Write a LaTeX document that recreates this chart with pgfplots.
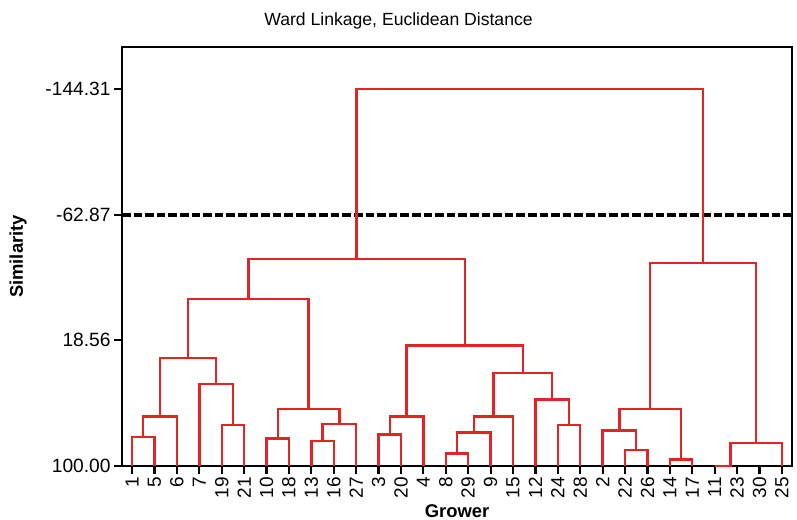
\documentclass[border=0pt]{standalone}
\usepackage{pgfplots}
\pgfplotsset{compat=1.18}
\usepackage{fontspec}
\setmainfont{Liberation Sans}
\definecolor{dendro}{RGB}{226,36,36}
\tikzset{lnk/.style={dendro, line width=1.2pt, mark=none, solid, line join=miter}}
\begin{document}
\begin{tikzpicture}
\begin{axis}[
  scale only axis,
  width=335pt, height=209.5pt,
  xmin=0.55, xmax=30.45,
  ymin=-171.5, ymax=100,
  y dir=reverse,
  clip=false,
  axis line style={line width=1.3pt},
  tick style={line width=1.1pt, black},
  major tick length=4pt,
  tick align=outside,
  tick pos=left,
  xtick={1,...,30},
  xticklabels={1,5,6,7,19,21,10,18,13,16,27,3,20,4,8,29,9,15,12,24,28,2,22,26,14,17,11,23,30,25},
  xticklabel style={rotate=90, anchor=east, font=\fontsize{9.5}{10}\selectfont, inner sep=1.5pt},
  ytick={-144.31,-62.87,18.56,100},
  yticklabels={-144.31,-62.87,18.56,100.00},
  yticklabel style={font=\fontsize{9.6}{10}\selectfont, inner sep=1.5pt},
  title={Ward Linkage, Euclidean Distance},
  title style={at={(axis description cs:0.4127,1.034)}, anchor=center, font=\fontsize{8.8}{10}\selectfont},
  xlabel={Grower},
  xlabel style={at={(axis description cs:0.5,-0.108)}, anchor=center, font=\bfseries\fontsize{9.2}{10}\selectfont},
  ylabel={Similarity},
  ylabel style={at={(axis description cs:-0.155,0.5)}, anchor=center, font=\bfseries\fontsize{9.2}{10}\selectfont},
]
% cut line
\addplot[black, line width=2pt, mark=none, dash pattern=on 4.3pt off 1.5pt] coordinates {(0.55,-62.87) (30.45,-62.87)};
% links: (xl,hl) (xl,h) (xr,h) (xr,hr)
\addplot[lnk] coordinates {(1,100) (1,81.4) (2,81.4) (2,100)};
\addplot[lnk] coordinates {(1.5,81.4) (1.5,68.0) (3,68.0) (3,100)};
\addplot[lnk] coordinates {(5,100) (5,73.6) (6,73.6) (6,100)};
\addplot[lnk] coordinates {(4,100) (4,46.7) (5.5,46.7) (5.5,73.6)};
\addplot[lnk] coordinates {(2.25,68.0) (2.25,30.2) (4.75,30.2) (4.75,46.7)};
\addplot[lnk] coordinates {(7,100) (7,82.3) (8,82.3) (8,100)};
\addplot[lnk] coordinates {(9,100) (9,83.8) (10,83.8) (10,100)};
\addplot[lnk] coordinates {(9.5,83.8) (9.5,72.8) (11,72.8) (11,100)};
\addplot[lnk] coordinates {(7.5,82.3) (7.5,63.1) (10.25,63.1) (10.25,72.8)};
\addplot[lnk] coordinates {(3.5,30.2) (3.5,-8.2) (8.875,-8.2) (8.875,63.1)};
\addplot[lnk] coordinates {(12,100) (12,79.5) (13,79.5) (13,100)};
\addplot[lnk] coordinates {(12.5,79.5) (12.5,68.0) (14,68.0) (14,100)};
\addplot[lnk] coordinates {(15,100) (15,91.8) (16,91.8) (16,100)};
\addplot[lnk] coordinates {(15.5,91.8) (15.5,78.4) (17,78.4) (17,100)};
\addplot[lnk] coordinates {(16.25,78.4) (16.25,68.0) (18,68.0) (18,100)};
\addplot[lnk] coordinates {(20,100) (20,73.6) (21,73.6) (21,100)};
\addplot[lnk] coordinates {(19,100) (19,56.8) (20.5,56.8) (20.5,73.6)};
\addplot[lnk] coordinates {(17.125,68.0) (17.125,39.9) (19.75,39.9) (19.75,56.8)};
\addplot[lnk] coordinates {(13.25,68.0) (13.25,22.0) (18.4375,22.0) (18.4375,39.9)};
\addplot[lnk] coordinates {(6.1875,-8.2) (6.1875,-34.0) (15.84375,-34.0) (15.84375,22.0)};
\addplot[lnk] coordinates {(23,100) (23,89.6) (24,89.6) (24,100)};
\addplot[lnk] coordinates {(22,100) (22,77.1) (23.5,77.1) (23.5,89.6)};
\addplot[lnk] coordinates {(25,100) (25,95.7) (26,95.7) (26,100)};
\addplot[lnk] coordinates {(22.75,77.1) (22.75,63.1) (25.5,63.1) (25.5,95.7)};
\addplot[lnk] coordinates {(27,100) (27.7,100) (27.7,84.9) (30,84.9) (30,100)};
\addplot[lnk] coordinates {(24.125,63.1) (24.125,-31.4) (28.85,-31.4) (28.85,84.9)};
\addplot[lnk] coordinates {(11.015625,-34.0) (11.015625,-144.31) (26.4875,-144.31) (26.4875,-31.4)};
\end{axis}
\pgfresetboundingbox
\path (current axis.south west) ++(-61pt,-26.5pt) coordinate (bbsw);
\path (current axis.north east) ++(2.5pt,23.5pt) coordinate (bbne);
\path (bbsw) rectangle (bbne);
\end{tikzpicture}
\end{document}
